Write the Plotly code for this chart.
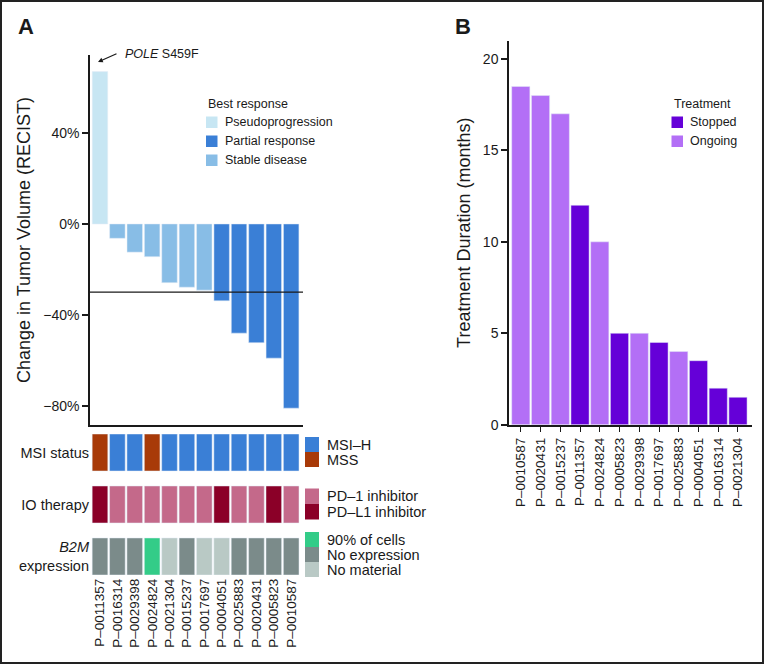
import plotly.graph_objects as go

# ---------------- data ----------------
patients_a = ["P–0011357", "P–0016314", "P–0029398", "P–0024824", "P–0021304", "P–0015237",
              "P–0017697", "P–0004051", "P–0025883", "P–0020431", "P–0005823", "P–0010587"]
change_pct = [67, -6.3, -12.4, -14.4, -25.8, -27.8, -29.1, -33.8, -48, -52.2, -59, -81]
best_response = ["Pseudoprogression", "Stable disease", "Stable disease", "Stable disease",
                 "Stable disease", "Stable disease", "Stable disease", "Partial response",
                 "Partial response", "Partial response", "Partial response", "Partial response"]
msi_status = ["MSS", "MSI–H", "MSI–H", "MSS", "MSI–H", "MSI–H", "MSI–H", "MSI–H",
              "MSI–H", "MSI–H", "MSI–H", "MSI–H"]
io_therapy = ["PD–L1 inhibitor", "PD–1 inhibitor", "PD–1 inhibitor", "PD–1 inhibitor",
              "PD–1 inhibitor", "PD–1 inhibitor", "PD–1 inhibitor", "PD–L1 inhibitor",
              "PD–1 inhibitor", "PD–1 inhibitor", "PD–L1 inhibitor", "PD–1 inhibitor"]
b2m_expr = ["No expression", "No expression", "No expression", "90% of cells", "No material",
            "No expression", "No material", "No material", "No expression", "No expression",
            "No expression", "No expression"]
threshold_pct = -30

patients_b = ["P–0010587", "P–0020431", "P–0015237", "P–0011357", "P–0024824", "P–0005823",
              "P–0029398", "P–0017697", "P–0025883", "P–0004051", "P–0016314", "P–0021304"]
duration_months = [18.5, 18, 17, 12, 10, 5, 5, 4.5, 4, 3.5, 2, 1.5]
treatment = ["Ongoing", "Ongoing", "Ongoing", "Stopped", "Ongoing", "Stopped", "Ongoing",
             "Stopped", "Ongoing", "Stopped", "Stopped", "Stopped"]

response_order = ["Pseudoprogression", "Partial response", "Stable disease"]
response_colors = {"Pseudoprogression": "#c7e6f3", "Partial response": "#3a7fd6",
                   "Stable disease": "#88bde6"}
heat_rows = [("MSI status", msi_status, ["MSI–H", "MSS"]),
             ("IO therapy", io_therapy, ["PD–1 inhibitor", "PD–L1 inhibitor"]),
             ("<i>B2M</i><br>expression", b2m_expr, ["90% of cells", "No expression", "No material"])]
heat_colors = {"MSI–H": "#3a7fd6", "MSS": "#a83a08",
               "PD–1 inhibitor": "#c4698a", "PD–L1 inhibitor": "#8b0028",
               "90% of cells": "#33cc88", "No expression": "#7b8b8a", "No material": "#b9c9c5"}
treat_order = ["Stopped", "Ongoing"]
treat_colors = {"Stopped": "#6500d8", "Ongoing": "#b36ff6"}

# ---------------- layout helpers ----------------
W, H = 764, 665
def px(x):
    return x / W
def py(y):
    return 1 - y / H

FONT = "Liberation Sans, Arial, sans-serif"
INK = "#1a1a1a"

fig = go.Figure()

# Panel A waterfall bars
for r in response_order:
    xs = [p for p, rr in zip(patients_a, best_response) if rr == r]
    ys = [v for v, rr in zip(change_pct, best_response) if rr == r]
    fig.add_trace(go.Bar(x=xs, y=ys, name=r, marker_color=response_colors[r],
                         width=0.89, xaxis="x", yaxis="y", showlegend=False))

# Panel A annotation heatmap (cells as bars)
cell_h = 0.712
for ri, (label, values, cats) in enumerate(heat_rows):
    for c in cats:
        xs = [p for p, v in zip(patients_a, values) if v == c]
        fig.add_trace(go.Bar(x=xs, y=[cell_h] * len(xs), base=[ri - cell_h / 2] * len(xs),
                             name=c, marker_color=heat_colors[c], width=0.9,
                             xaxis="x2", yaxis="y2", showlegend=False))

# Panel B treatment duration
for t in treat_order:
    xs = [p for p, tt in zip(patients_b, treatment) if tt == t]
    ys = [v for v, tt in zip(duration_months, treatment) if tt == t]
    fig.add_trace(go.Bar(x=xs, y=ys, name=t, marker_color=treat_colors[t],
                         width=0.92, xaxis="x3", yaxis="y3", showlegend=False))

axis_line = dict(showline=True, linecolor=INK, linewidth=1.5)
tickfont = dict(family=FONT, size=14, color=INK)

fig.update_layout(
    width=W, height=H, margin=dict(l=0, r=0, t=0, b=0),
    paper_bgcolor="white", plot_bgcolor="white", barmode="overlay",
    font=dict(family=FONT, color=INK),
    xaxis=dict(domain=[px(90), px(303)], anchor="y", type="category",
               categoryorder="array", categoryarray=patients_a,
               range=[-0.575, 11.68], showticklabels=False, ticks="",
               showgrid=False, zeroline=False, automargin=False, **axis_line),
    yaxis=dict(domain=[py(425), py(55)], anchor="x", range=[-88.4, 74.3],
               tickvals=[-80, -40, 0, 40], ticktext=["−80%", "−40%", "0%", "40%"],
               ticks="outside", ticklen=6, tickwidth=1.5, tickcolor=INK, tickfont=tickfont,
               showgrid=False, zeroline=False, automargin=False,
               title=dict(text="Change in Tumor Volume (RECIST)",
                          font=dict(family=FONT, size=18, color=INK), standoff=8),
               **axis_line),
    xaxis2=dict(domain=[px(90), px(303)], anchor="y2", type="category",
                categoryorder="array", categoryarray=patients_a,
                range=[-0.575, 11.68], tickangle=-90, ticks="",
                tickfont=dict(family=FONT, size=13.5, color=INK),
                showline=False, showgrid=False, zeroline=False, automargin=False),
    yaxis2=dict(domain=[py(575), py(434)], anchor="x2",
                range=[len(heat_rows) - 1 + 0.356, -0.356],
                tickvals=list(range(len(heat_rows))), ticktext=[h[0] for h in heat_rows],
                ticks="", tickfont=dict(family=FONT, size=14.5, color=INK),
                ticklabelstandoff=0,
                showline=False, showgrid=False, zeroline=False, automargin=False),
    xaxis3=dict(domain=[px(509), px(752)], anchor="y3", type="category",
                categoryorder="array", categoryarray=patients_b,
                range=[-0.597, 11.71], tickangle=-90, ticks="outside", ticklen=6,
                tickwidth=1.2, tickcolor=INK,
                tickfont=dict(family=FONT, size=13.5, color=INK),
                showgrid=False, zeroline=False, automargin=False, **axis_line),
    yaxis3=dict(domain=[py(424.7), py(40.7)], anchor="x3", range=[0, 21],
                tickvals=[0, 5, 10, 15, 20], ticks="outside", ticklen=6, tickwidth=1.5,
                tickcolor=INK, tickfont=tickfont,
                showgrid=False, zeroline=False, automargin=False,
                title=dict(text="Treatment Duration (months)",
                           font=dict(family=FONT, size=18, color=INK), standoff=8),
                **axis_line),
)

shapes = []
annotations = []

# threshold line at -30%
shapes.append(dict(type="line", xref="x domain", yref="y", x0=0, x1=1,
                   y0=threshold_pct, y1=threshold_pct, line=dict(color=INK, width=1.3)))

# outer frame
shapes.append(dict(type="rect", xref="paper", yref="paper", x0=px(1), x1=px(763),
                   y0=py(663), y1=py(1), line=dict(color="#222", width=2)))

def legend_block(title, items, colors, x_sw, sw_w, y_tops, sw_h, x_text, fsize, title_xy=None,
                 title_size=12.5):
    if title_xy is not None:
        annotations.append(dict(text=title, xref="paper", yref="paper", x=px(title_xy[0]),
                                y=py(title_xy[1]), xanchor="left", yanchor="middle",
                                showarrow=False, font=dict(family=FONT, size=title_size, color=INK)))
    for it, yt in zip(items, y_tops):
        shapes.append(dict(type="rect", xref="paper", yref="paper", x0=px(x_sw),
                           x1=px(x_sw + sw_w), y0=py(yt + sw_h), y1=py(yt),
                           fillcolor=colors[it], line=dict(width=0)))
        annotations.append(dict(text=it, xref="paper", yref="paper", x=px(x_text),
                                y=py(yt + sw_h / 2), xanchor="left", yanchor="middle",
                                showarrow=False, font=dict(family=FONT, size=fsize, color=INK)))

legend_block("Best response", response_order, response_colors, 206, 11.5,
             [116.5, 135.5, 154.5], 11.5, 223, 12.5, title_xy=(206, 104))
legend_block("Treatment", treat_order, treat_colors, 671.5, 11.5,
             [116.5, 135.5], 11.5, 688, 12.5, title_xy=(671.5, 104))
legend_block(None, heat_rows[0][2], heat_colors, 305, 14, [437, 452], 15, 325, 14.5)
legend_block(None, heat_rows[1][2], heat_colors, 305, 14, [488.5, 504], 15.5, 325, 14.5)
legend_block(None, heat_rows[2][2], heat_colors, 305, 14, [532, 547, 562], 15, 325, 14.5)

# panel letters
annotations.append(dict(text="<b>A</b>", xref="paper", yref="paper", x=px(26), y=py(26),
                        xanchor="center", yanchor="middle",
                        showarrow=False, font=dict(family=FONT, size=22, color=INK)))
annotations.append(dict(text="<b>B</b>", xref="paper", yref="paper", x=px(463), y=py(26),
                        xanchor="center", yanchor="middle",
                        showarrow=False, font=dict(family=FONT, size=22, color=INK)))

# POLE annotation
annotations.append(dict(text="<i>POLE</i> S459F", xref="paper", yref="paper", x=px(123),
                        y=py(54), xanchor="left", yanchor="middle", showarrow=False,
                        font=dict(family=FONT, size=12.5, color=INK)))
annotations.append(dict(text="", xref="paper", yref="paper", x=px(98), y=py(62),
                        ax=20, ay=-9, showarrow=True, arrowhead=2, arrowsize=0.8,
                        arrowwidth=1.2, arrowcolor=INK))

fig.update_layout(shapes=shapes, annotations=annotations)
fig.write_html("out.html", config={"displayModeBar": False},
               post_script="document.body.style.margin='0';document.body.style.overflow='hidden';")
